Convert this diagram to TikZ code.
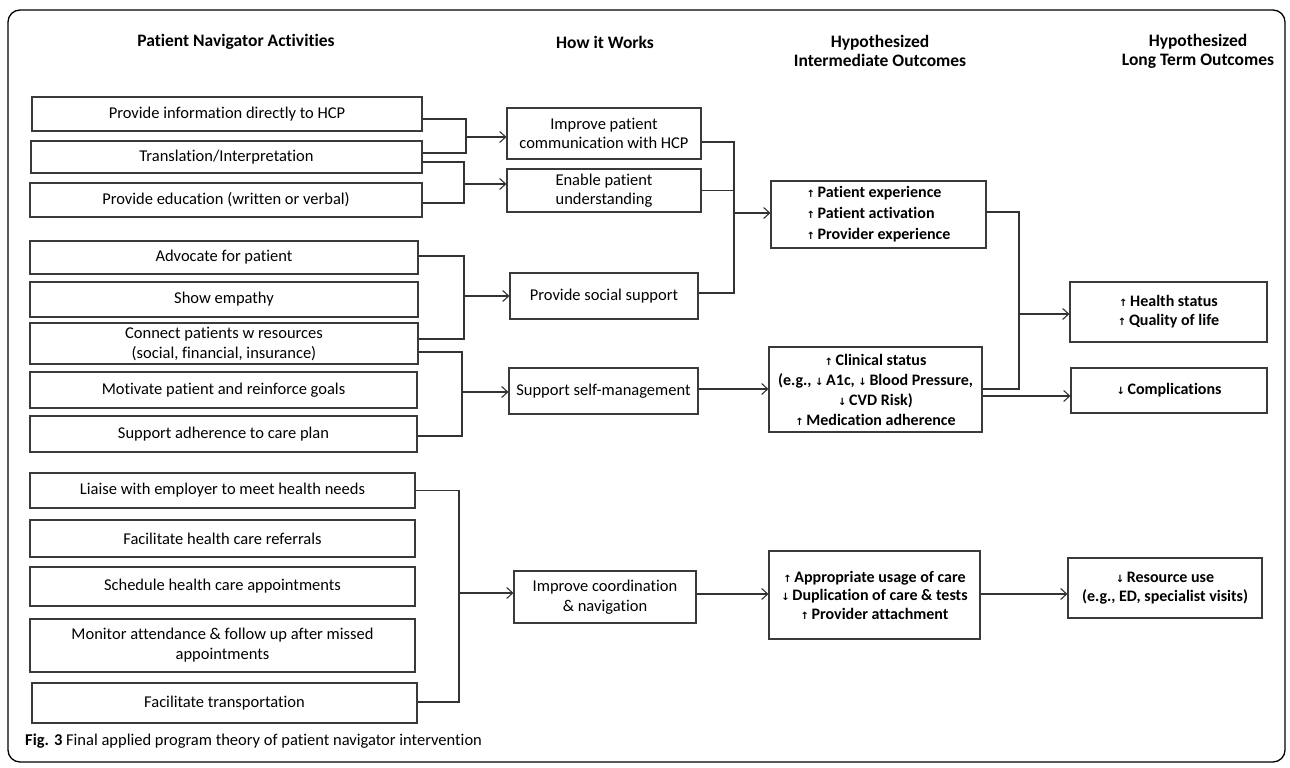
\documentclass[tikz,border=0pt]{standalone}
\usepackage{fontspec}
\setmainfont{Carlito}[Ligatures=NoCommon]
\newfontfamily\symfont{DejaVu Sans}
\usetikzlibrary{arrows.meta}
\definecolor{lncol}{HTML}{333333}
\definecolor{boxcol}{HTML}{3A3A3A}
\newcommand{\uarr}{{\symfont\fontsize{10}{10}\selectfont ↑}\,}
\newcommand{\darr}{{\symfont\fontsize{10}{10}\selectfont ↓}\,}
\begin{document}
\begin{tikzpicture}[x=1pt,y=-1pt,
  box/.style={draw=boxcol, line width=1.1pt, inner sep=2pt, align=center, font=\fontsize{16.5}{20}\selectfont},
  mbox/.style={box, font=\fontsize{16.5}{19.5}\selectfont},
  obox/.style={box, font=\bfseries\fontsize{16}{20}\selectfont},
  head/.style={align=center, font=\bfseries\fontsize{17.5}{19}\selectfont},
  ln/.style={draw=lncol, line width=1.1pt},
  arr/.style={ln, -{Straight Barb[length=6pt,width=11pt,line width=1.1pt]}}
]
\useasboundingbox (0,0) rectangle (1290,768);
\draw[line width=1.3pt, rounded corners=12pt] (8,10) rectangle (1285,762);

% headers
\node[head] (h1) at (236,42) {Patient Navigator Activities};
\node[head] (h2) at (605,42) {How it Works};
\node[head] (h3) at (880,51) {Hypothesized\\Intermediate Outcomes};
\node[head] (h4) at (1198,51) {Hypothesized\\Long Term Outcomes};

% left column
\node[box, minimum width=390, minimum height=34] (a1) at (227,114) {Provide information directly to HCP};
\node[box, minimum width=391, minimum height=32] (a2) at (226.5,157) {Translation/Interpretation};
\node[box, minimum width=392, minimum height=34] (a3) at (226,200) {Provide education (written or verbal)};
\node[box, minimum width=388, minimum height=33] (a4) at (224,257.5) {Advocate for patient};
\node[box, minimum width=388, minimum height=35] (a5) at (224,299.5) {Show empathy};
\node[box, minimum width=388, minimum height=41] (a6) at (224,343.5) {Connect patients w resources\\(social, financial, insurance)};
\node[box, minimum width=387, minimum height=36] (a7) at (223.5,390) {Motivate patient and reinforce goals};
\node[box, minimum width=387, minimum height=36] (a8) at (223.5,434) {Support adherence to care plan};
\node[box, minimum width=385, minimum height=35] (a9) at (222.5,490.5) {Liaise with employer to meet health needs};
\node[box, minimum width=385, minimum height=37] (a10) at (222.5,538.5) {Facilitate health care referrals};
\node[box, minimum width=385, minimum height=39] (a11) at (222.5,586.5) {Schedule health care appointments};
\node[box, minimum width=385, minimum height=53] (a12) at (222.5,645.5) {Monitor attendance \& follow up after missed\\appointments};
\node[box, minimum width=385, minimum height=40] (a13) at (224.5,703) {Facilitate transportation};

% middle column
\node[mbox, minimum width=194, minimum height=51] (b1) at (604,133.5) {Improve patient\\communication with HCP};
\node[mbox, minimum width=194, minimum height=43] (b2) at (604,190.5) {Enable patient\\understanding};
\node[mbox, minimum width=188, minimum height=46] (b3) at (604,296) {Provide social support};
\node[mbox, minimum width=189, minimum height=46] (b4) at (603.5,391) {Support self-management};
\node[mbox, minimum width=182, minimum height=52] (b5) at (605,597) {Improve coordination\\\& navigation};

% third column
\node[obox, minimum width=215, minimum height=67, align=left, font=\bfseries\fontsize{16}{21}\selectfont] (c1) at (878.5,214.5) {\uarr Patient experience\\\uarr Patient activation\\\uarr Provider experience};
\node[obox, minimum width=213, minimum height=85] (c2) at (875.5,389.5) {\uarr Clinical status\\(e.g., \darr A1c, \darr Blood Pressure,\\\darr CVD Risk)\\\uarr Medication adherence};
\node[obox, minimum width=211, minimum height=88, font=\bfseries\fontsize{16}{18.5}\selectfont] (c3) at (874.5,595) {\uarr Appropriate usage of care\\\darr Duplication of care \& tests\\\uarr Provider attachment};

% fourth column
\node[obox, minimum width=197, minimum height=60, font=\bfseries\fontsize{16}{19}\selectfont] (d1) at (1168.5,312) {\uarr Health status\\\uarr Quality of life};
\node[obox, minimum width=196, minimum height=45] (d2) at (1169,390.5) {\darr Complications};
\node[obox, minimum width=194, minimum height=60, font=\bfseries\fontsize{16}{19}\selectfont] (d3) at (1165,588) {\darr Resource use\\(e.g., ED, specialist visits)};

% connectors: left -> middle
\coordinate (j1) at (466,137);
\draw[ln] ([yshift=-5pt]a1.east) -| (j1) |- ([yshift=4pt]a2.east);
\draw[arr] (j1) -- (j1 -| b1.west);

\coordinate (j2) at (464,184);
\draw[ln] ([yshift=-5pt]a2.east) -| (j2) |- ([yshift=-3pt]a3.east);
\draw[arr] (j2) -- (j2 -| b2.west);

\coordinate (j3) at (464,296);
\draw[ln] ([yshift=1.5pt]a4.east) -| (j3) |- ([yshift=4.5pt]a6.east);
\draw[arr] (j3) -- (j3 -| b3.west);

\coordinate (j4) at (462,392);
\draw[ln] ([yshift=-8.5pt]a6.east) -| (j4) |- ([yshift=-2pt]a8.east);
\draw[arr] (j4) -- (j4 -| b4.west);

\coordinate (j5) at (459,593);
\draw[ln] (a9.east) -| (j5) |- ([yshift=1pt]a13.east);
\draw[arr] (j5) -- (j5 -| b5.west);

% middle -> third
\coordinate (j6) at (734,213);
\draw[ln] ([yshift=-8.5pt]b1.east) -| (j6) |- ([yshift=3pt]b3.east);
\draw[ln] (b2.east) -- (b2.east -| j6);
\draw[arr] (j6) -- (j6 -| c1.west);

\draw[arr] ([yshift=2pt]b4.east) -- ([yshift=2pt]b4.east -| c2.west);
\draw[arr] ([yshift=3pt]b5.east) -- ([yshift=3pt]b5.east -| c3.west);

% third -> fourth
\coordinate (j7) at (1019,314);
\draw[ln] ([yshift=2.5pt]c1.east) -| (j7) |- ([yshift=0.5pt]c2.east);
\draw[arr] (j7) -- (j7 -| d1.west);
\draw[arr] ([yshift=-6.5pt]c2.east) -- ([yshift=-6.5pt]c2.east -| d2.west);
\draw[arr] ([yshift=1pt]c3.east) -- ([yshift=1pt]c3.east -| d3.west);

% caption
\node[anchor=west, inner sep=0pt, font=\fontsize{16.5}{18}\selectfont] (cap) at (25,741) {\textbf{Fig. 3} Final applied program theory of patient navigator intervention};
\end{tikzpicture}
\end{document}
